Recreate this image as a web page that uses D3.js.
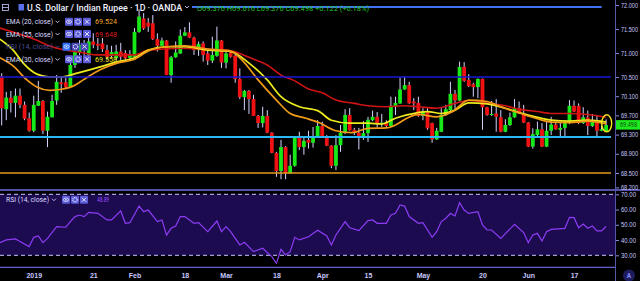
<!DOCTYPE html>
<html>
<head>
<meta charset="utf-8">
<script src="https://cdn.jsdelivr.net/npm/d3@7"></script>
<style>
  html, body { margin: 0; padding: 0; background: #000; }
  svg { display: block; font-family: Roboto, "DejaVu Sans", sans-serif; }
</style>
</head>
<body>
<svg id="chart" width="640" height="281"></svg>
<script>
// daily USD/INR candles, 24 Dec 2018 .. 26 Jun 2019 (weekdays)
const opens = [
  70.52, 69.83, 70.07, 69.96, 70.11, 69.92, 69.64, 69.38, 69.90, 70.00,
  69.38, 69.66, 70.01, 70.39, 70.39, 70.29, 70.75, 71.02, 71.17, 70.96,
  71.24, 71.19, 71.20, 71.06, 70.94, 70.89, 71.03, 71.00, 70.90, 70.92,
  71.44, 71.72, 71.63, 71.62, 71.29, 71.15, 71.26, 70.54, 70.91, 70.99,
  71.36, 71.43, 71.32, 71.06, 71.20, 70.99, 70.84, 70.94, 71.26, 70.80,
  71.01, 70.94, 70.46, 70.08, 70.21, 70.04, 69.69, 69.54, 69.69, 69.34,
  68.92, 68.54, 69.04, 68.49, 68.65, 69.26, 69.04, 69.19, 69.13, 69.26,
  69.48, 69.27, 69.07, 68.65, 69.08, 69.34, 69.71, 69.40, 69.34, 69.24,
  69.33, 69.60, 69.67, 69.52, 69.55, 69.48, 69.88, 69.95, 70.24, 70.33,
  69.99, 69.96, 69.69, 69.79, 69.54, 69.20, 69.36, 69.71, 69.81, 70.15,
  70.01, 70.71, 70.44, 70.35, 70.29, 70.46, 69.87, 69.71, 69.74, 69.66,
  69.36, 69.50, 69.66, 69.85, 69.74, 69.55, 69.05, 69.29, 69.41, 69.05,
  69.38, 69.51, 69.40, 69.44, 69.54, 69.90, 69.90, 69.54, 69.66, 69.48,
  69.59, 69.38, 69.376
];
const highs = [
  70.58, 70.19, 70.21, 70.26, 70.26, 69.99, 69.76, 70.11, 70.42, 70.02,
  69.78, 70.13, 70.54, 70.52, 70.51, 70.85, 71.13, 71.27, 71.27, 71.42,
  71.41, 71.31, 71.31, 71.17, 71.15, 71.17, 71.21, 71.06, 71.06, 71.52,
  71.91, 71.83, 71.73, 71.79, 71.41, 71.32, 71.27, 70.94, 71.24, 71.49,
  71.54, 71.64, 71.34, 71.24, 71.24, 71.10, 71.34, 71.55, 71.27, 71.02,
  71.06, 71.03, 70.68, 70.23, 70.23, 70.13, 69.71, 69.88, 69.81, 69.35,
  68.94, 69.19, 69.06, 68.88, 69.27, 69.36, 69.27, 69.38, 69.46, 69.60,
  69.57, 69.29, 69.08, 69.29, 69.50, 69.83, 69.85, 69.44, 69.44, 69.58,
  69.67, 69.80, 69.77, 69.73, 69.60, 70.09, 70.09, 70.49, 70.51, 70.40,
  70.06, 70.09, 69.85, 69.85, 69.55, 69.44, 69.85, 69.92, 70.40, 70.23,
  70.82, 70.81, 70.56, 70.38, 70.47, 70.47, 69.88, 70.00, 70.04, 69.81,
  69.62, 69.76, 70.04, 69.99, 69.92, 69.56, 69.43, 69.57, 69.54, 69.57,
  69.67, 69.58, 69.54, 69.60, 70.02, 70.01, 69.95, 69.87, 69.80, 69.73,
  69.71, 69.50, 69.616
];
const lows = [
  69.49, 69.60, 69.76, 69.66, 69.85, 69.60, 69.36, 69.35, 69.90, 69.31,
  69.04, 69.66, 69.92, 70.17, 70.27, 70.29, 70.69, 70.96, 70.94, 70.92,
  71.10, 71.06, 71.02, 70.85, 70.90, 70.85, 70.85, 70.81, 70.85, 70.92,
  71.42, 71.48, 71.44, 71.27, 71.03, 71.15, 70.54, 70.38, 70.90, 70.98,
  71.35, 71.31, 70.96, 70.94, 70.82, 70.75, 70.79, 70.92, 70.69, 70.68,
  70.90, 70.38, 70.04, 69.81, 69.73, 69.69, 69.44, 69.45, 69.33, 68.91,
  68.42, 68.37, 68.37, 68.49, 68.63, 68.98, 68.88, 69.01, 69.03, 69.25,
  69.25, 69.06, 68.60, 68.56, 68.94, 69.31, 69.38, 69.29, 68.99, 69.19,
  69.15, 69.58, 69.45, 69.46, 69.44, 69.46, 69.71, 69.94, 70.23, 69.94,
  69.81, 69.67, 69.60, 69.40, 69.13, 69.19, 69.35, 69.69, 69.79, 69.81,
  70.00, 70.40, 70.29, 70.09, 70.06, 69.40, 69.69, 69.69, 69.36, 69.35,
  69.35, 69.48, 69.65, 69.73, 69.54, 69.04, 69.01, 69.27, 69.04, 69.04,
  69.29, 69.40, 69.27, 69.27, 69.52, 69.77, 69.52, 69.52, 69.29, 69.46,
  69.27, 69.37, 69.376
];
const closes = [
  69.85, 70.07, 69.96, 70.11, 69.92, 69.63, 69.38, 69.92, 70.00, 69.38,
  69.67, 70.00, 70.40, 70.35, 70.29, 70.75, 71.03, 71.17, 71.06, 71.24,
  71.17, 71.15, 71.08, 70.92, 71.02, 71.03, 70.92, 70.89, 70.96, 71.44,
  71.76, 71.51, 71.55, 71.29, 71.15, 71.26, 70.54, 70.91, 71.01, 71.36,
  71.43, 71.32, 71.06, 71.19, 70.96, 70.84, 70.96, 71.26, 70.80, 70.99,
  70.92, 70.46, 70.08, 70.21, 70.04, 69.69, 69.54, 69.69, 69.34, 68.92,
  68.54, 69.04, 68.49, 68.65, 69.26, 69.04, 69.17, 69.13, 69.26, 69.48,
  69.27, 69.07, 68.65, 69.08, 69.34, 69.71, 69.39, 69.34, 69.24, 69.33,
  69.61, 69.67, 69.54, 69.55, 69.48, 69.90, 69.96, 70.24, 70.33, 69.95,
  69.95, 69.69, 69.79, 69.43, 69.20, 69.38, 69.71, 69.83, 70.15, 70.01,
  70.71, 70.42, 70.31, 70.29, 70.46, 69.87, 69.71, 69.73, 69.67, 69.36,
  69.50, 69.66, 69.85, 69.74, 69.55, 69.05, 69.31, 69.41, 69.05, 69.38,
  69.51, 69.41, 69.44, 69.54, 69.90, 69.78, 69.54, 69.66, 69.48, 69.59,
  69.38, 69.41, 69.498
];

// moving averages: [bar index, price]
const ema20 = [
  [-0.4, 70.90], [2.5, 70.73], [5.5, 70.44], [7.7, 70.29], [10.5, 70.22], [13.4, 70.25],
  [15.6, 70.31], [17.8, 70.44], [21.5, 70.65], [25.2, 70.79], [28.7, 70.86], [32.4, 71.06],
  [36, 71.13], [40, 71.15], [45, 71.08], [50, 71.04], [52.5, 70.85], [56, 70.44],
  [60, 70.02], [63, 69.74], [66.5, 69.64], [69.5, 69.54], [73, 69.38], [76.5, 69.34],
  [80, 69.43], [84, 69.44], [86, 69.50], [88.5, 69.64], [91, 69.72], [95, 69.67],
  [98.5, 69.78], [102, 70.02], [106, 69.99], [109.5, 69.86], [113, 69.75], [117, 69.63],
  [120, 69.56], [124, 69.55], [128, 69.58], [132, 69.52]
];
const ema30 = [
  [-0.4, 71.29], [2.5, 71.06], [4.7, 70.79], [7.7, 70.56], [10.5, 70.50], [13, 70.50],
  [16.5, 70.58], [21.5, 70.71], [25, 70.81], [29, 70.90], [32, 71.06], [36, 71.13],
  [40, 71.13], [45, 71.06], [50, 71.03], [54, 70.79], [58, 70.44], [61, 70.09],
  [65, 69.88], [69, 69.80], [72, 69.60], [76, 69.54], [80, 69.54], [83, 69.52],
  [86, 69.64], [88.5, 69.71], [93, 69.78], [96, 69.74], [99, 69.81], [102, 69.96],
  [106, 69.94], [110, 69.85], [113, 69.76], [117, 69.66], [120, 69.60], [124, 69.58],
  [128, 69.60], [132, 69.56]
];
const ema55 = [
  [-0.4, 71.52], [7, 71.29], [11, 71.13], [18, 71.00], [21, 70.96], [29, 70.96],
  [32, 71.06], [40, 71.10], [43, 71.08], [49, 71.06], [52, 70.99], [54, 70.91],
  [58, 70.75], [61, 70.54], [64, 70.42], [67, 70.25], [70, 70.17], [73, 70.02],
  [77, 69.95], [80, 69.90], [84, 69.88], [88, 69.90], [91, 69.88], [95, 69.85],
  [99, 69.95], [102, 70.01], [106, 69.96], [110, 69.90], [113, 69.83], [117, 69.78],
  [120, 69.74], [124, 69.74], [128, 69.72], [132, 69.66]
];

// RSI(14) turning points: [bar index, value]
const rsi = [
  [-0.4, 38.3], [1, 40.1], [3, 40.7], [4, 39.0], [6, 35.7], [7, 41.8], [8, 42.7], [9, 38.3],
  [10, 41.1], [12, 48.8], [14, 48.4], [15, 52.1], [16, 55.4], [17, 56.4], [18, 55.4],
  [19, 58.2], [21, 57.5], [23, 53.2], [24, 53.2], [26, 59.1], [27, 51.0], [28, 51.4],
  [30, 62.3], [31, 58.6], [32, 59.7], [34, 52.1], [35, 53.2], [36, 43.3], [37, 47.7],
  [38, 49.2], [39, 55.4], [40, 55.4], [42, 51.0], [43, 51.4], [45, 45.5], [47, 52.5],
  [48, 45.5], [49, 48.8], [50, 45.5], [52, 36.8], [53, 38.5], [55, 32.4], [57, 34.6],
  [59, 29.1], [60, 24.8], [61, 33.9], [62, 30.2], [63, 32.4], [64, 41.8], [65, 40.1],
  [67, 42.2], [69, 46.5], [71, 42.7], [72, 36.8], [73, 43.3], [75, 52.1], [76, 48.1],
  [78, 46.2], [80, 52.7], [81, 53.2], [82, 51.0], [84, 51.0], [85, 56.4], [86, 57.5],
  [87, 63.0], [88, 62.3], [89, 55.4], [91, 51.0], [92, 51.4], [94, 41.8], [95, 45.5],
  [96, 52.1], [97, 54.3], [98, 57.5], [99, 55.8], [100, 64.5], [101, 59.7], [102, 57.5],
  [104, 58.6], [105, 49.9], [106, 46.6], [107, 46.6], [109, 41.1], [112, 50.3], [114, 44.9],
  [115, 38.3], [116, 43.3], [117, 44.4], [118, 39.4], [119, 45.5], [120, 47.0], [123, 47.7],
  [124, 54.9], [125, 54.7], [126, 48.1], [127, 50.5], [128, 47.7], [129, 49.2], [130, 46.0],
  [131, 46.0], [132, 48.9]
];

// horizontal drawings
const levels = [71.96, 70.5, 69.25, 68.5];

// axis labels
const priceTicks = [72.0, 71.5, 71.0, 70.5, 70.1, 69.7, 69.3, 68.9, 68.5, 68.2];
const rsiTicks = [70, 60, 50, 40, 30];
const dateTicks = [
  ['2019-01-02', '2019'], ['2019-01-21', '21'], ['2019-02-01', 'Feb'], ['2019-02-18', '18'],
  ['2019-03-01', 'Mar'], ['2019-03-18', '18'], ['2019-04-01', 'Apr'], ['2019-04-15', '15'],
  ['2019-05-01', 'May'], ['2019-05-20', '20'], ['2019-06-03', 'Jun'], ['2019-06-17', '17']
];
const legendRows = [
  { label: 'EMA (20, close)', value: '69.524', color: '#f0a62a' },
  { label: 'EMA (55, close)', value: '69.648', color: '#d81c1c' },
  { label: 'RSI (14, close)', value: '', color: '' },
  { label: 'EMA (30, close)', value: '69.558', color: '#e8e41e' }
];
const lastPrice = 69.498;
const lastRsi = '48.89';

// ---------------------------------------------------------------
const W = 640, H = 281;
const axisX = 615;
const paneBottom = 190;
const TEXT = '#c8c8ff';

// trading days (weekdays)
const dates = [];
{
  const d = new Date(2018, 11, 24);
  while (dates.length < closes.length) {
    if (d.getDay() !== 0 && d.getDay() !== 6) dates.push(new Date(d));
    d.setDate(d.getDate() + 1);
  }
}
const fmtDay = d3.timeFormat('%Y-%m-%d');

const svg = d3.select('#chart');

const x = d3.scaleLinear().domain([0, closes.length - 1]).range([1.7, 606.1]);
const y = d3.scaleLinear().domain([68.2, 72.0]).range([187.4, 5]);
const yR = d3.scaleLinear().domain([30, 70]).range([255.3, 194.3]);

svg.append('rect').attr('width', W).attr('height', H).attr('fill', '#000');

const defs = svg.append('defs');
defs.append('clipPath').attr('id', 'mainClip')
  .append('rect').attr('x', 0).attr('y', 0).attr('width', axisX).attr('height', paneBottom);
defs.append('clipPath').attr('id', 'rsiClip')
  .append('rect').attr('x', 0).attr('y', paneBottom).attr('width', axisX).attr('height', 267 - paneBottom);

// RSI pane band
svg.append('rect')
  .attr('x', 0).attr('y', yR(70))
  .attr('width', axisX).attr('height', yR(30) - yR(70))
  .attr('fill', '#1d0b50');

svg.selectAll('.rsi-band-line')
  .data([70, 30])
  .enter().append('line')
  .attr('class', 'rsi-band-line')
  .attr('x1', 0).attr('x2', axisX)
  .attr('y1', d => yR(d)).attr('y2', d => yR(d))
  .attr('stroke', '#c8c8ff').attr('stroke-width', 1)
  .attr('stroke-dasharray', '4,3');

// candles
const main = svg.append('g').attr('clip-path', 'url(#mainClip)');

const candles = main.selectAll('.candle')
  .data(closes.map((c, i) => ({ i, o: opens[i], h: highs[i], l: lows[i], c })))
  .enter().append('g').attr('class', 'candle');

candles.append('line')
  .attr('x1', d => x(d.i)).attr('x2', d => x(d.i))
  .attr('y1', d => y(d.h)).attr('y2', d => y(d.l))
  .attr('stroke', '#d4d4ff').attr('stroke-width', 1);

candles.append('rect')
  .attr('x', d => x(d.i) - 1.9)
  .attr('width', 3.8)
  .attr('y', d => y(Math.max(d.o, d.c)))
  .attr('height', d => Math.max(1, Math.abs(y(d.o) - y(d.c))))
  .attr('fill', d => d.c >= d.o ? '#17e817' : '#f01212');

// moving averages
const emaLine = d3.line()
  .x(d => x(d[0]))
  .y(d => y(d[1]))
  .curve(d3.curveMonotoneX);

main.append('path').datum(ema55)
  .attr('d', emaLine).attr('fill', 'none')
  .attr('stroke', '#d01414').attr('stroke-width', 1.6);
main.append('path').datum(ema30)
  .attr('d', emaLine).attr('fill', 'none')
  .attr('stroke', '#ecea1c').attr('stroke-width', 1.7);
main.append('path').datum(ema20)
  .attr('d', emaLine).attr('fill', 'none')
  .attr('stroke', '#f09a1a').attr('stroke-width', 1.7);

// horizontal drawings
const levelStyle = [
  { stroke: '#4272f2', w: 2, x1: 192, x2: 601.7 },
  { stroke: '#1818d8', w: 1.5, x1: 0, x2: 611 },
  { stroke: '#2cb8f6', w: 2, x1: 0, x2: 611 },
  { stroke: '#e4981c', w: 1.5, x1: 0, x2: 611 }
];
svg.selectAll('.level')
  .data(levels)
  .enter().append('line')
  .attr('class', 'level')
  .attr('x1', (d, i) => levelStyle[i].x1).attr('x2', (d, i) => levelStyle[i].x2)
  .attr('y1', d => y(d)).attr('y2', d => y(d))
  .attr('stroke', (d, i) => levelStyle[i].stroke)
  .attr('stroke-width', (d, i) => levelStyle[i].w);

// marker round the last bar
svg.append('ellipse')
  .attr('cx', x(closes.length - 1) + 0.6).attr('cy', 123.3)
  .attr('rx', 5).attr('ry', 8.5)
  .attr('fill', 'none').attr('stroke', '#f2e41e').attr('stroke-width', 1.4);

// RSI line
svg.append('path').datum(rsi)
  .attr('clip-path', 'url(#rsiClip)')
  .attr('d', d3.line().x(d => x(d[0])).y(d => yR(d[1])))
  .attr('fill', 'none')
  .attr('stroke', '#8c3cf4').attr('stroke-width', 1.2);

// pane separators and price scale line
svg.append('line')
  .attr('x1', 0).attr('x2', W).attr('y1', paneBottom).attr('y2', paneBottom)
  .attr('stroke', '#6e6ee0').attr('stroke-width', 1.5);
svg.append('line')
  .attr('x1', 0).attr('x2', axisX).attr('y1', 267.3).attr('y2', 267.3)
  .attr('stroke', '#6262d4').attr('stroke-width', 1.2);
svg.append('line')
  .attr('x1', axisX + 0.5).attr('x2', axisX + 0.5).attr('y1', 0).attr('y2', H)
  .attr('stroke', '#5656a8').attr('stroke-width', 1);

// price axis
const priceAxis = d3.axisRight(y)
  .tickValues(priceTicks)
  .tickFormat(d3.format('.3f'))
  .tickSize(3).tickPadding(2);
const pa = svg.append('g')
  .attr('transform', `translate(${axisX + 1},0)`)
  .call(priceAxis);
pa.select('.domain').remove();
pa.selectAll('line').attr('stroke', '#8a8ae0');
pa.selectAll('text')
  .attr('fill', TEXT).attr('font-size', '6.5px')
  .attr('textLength', 17).attr('lengthAdjust', 'spacingAndGlyphs');

// RSI axis
const rsiAxis = d3.axisRight(yR)
  .tickValues(rsiTicks)
  .tickFormat(d3.format('.2f'))
  .tickSize(3).tickPadding(2);
const ra = svg.append('g')
  .attr('transform', `translate(${axisX + 1},0)`)
  .call(rsiAxis);
ra.select('.domain').remove();
ra.selectAll('line').attr('stroke', '#8a8ae0');
ra.selectAll('text')
  .attr('fill', TEXT).attr('font-size', '6.5px')
  .attr('textLength', 15).attr('lengthAdjust', 'spacingAndGlyphs');

// date axis
const tickIdx = dateTicks.map(t => dates.findIndex(d => fmtDay(d) === t[0]));
const tickLabel = new Map(tickIdx.map((k, n) => [k, dateTicks[n][1]]));
const dateAxis = d3.axisBottom(x)
  .tickValues(tickIdx)
  .tickFormat(k => tickLabel.get(k))
  .tickSize(0).tickPadding(5);
const da = svg.append('g')
  .attr('transform', 'translate(0,268)')
  .call(dateAxis);
da.select('.domain').remove();
da.selectAll('text')
  .attr('fill', TEXT).attr('font-size', '7px').attr('font-weight', 'bold');

// last price tag
svg.append('rect')
  .attr('x', axisX + 1).attr('y', y(lastPrice) - 5)
  .attr('width', W - axisX - 1).attr('height', 9.5)
  .attr('fill', '#1ee81e');
svg.append('text')
  .attr('x', 620).attr('y', y(lastPrice) + 2.4)
  .attr('fill', '#0d4d0d').attr('font-size', '6.5px')
  .attr('textLength', 17).attr('lengthAdjust', 'spacingAndGlyphs')
  .text(lastPrice.toFixed(3));

// auto-scale button
svg.append('circle')
  .attr('cx', 629).attr('cy', 275.5).attr('r', 6)
  .attr('fill', '#1c1c5e');
svg.append('text')
  .attr('x', 629).attr('y', 278).attr('text-anchor', 'middle')
  .attr('fill', '#8a8aff').attr('font-size', '6.5px').attr('font-weight', 'bold')
  .text('A');

// ---- legends ----
function chevron(g, cx, cy, color) {
  g.append('path')
    .attr('d', `M${cx - 2},${cy - 1} L${cx},${cy + 1} L${cx + 2},${cy - 1}`)
    .attr('fill', 'none').attr('stroke', color).attr('stroke-width', 0.9);
}

function icons(g, x0, cy, fills) {
  fills.forEach((f, k) => {
    const bx = x0 + k * 9;
    g.append('rect')
      .attr('x', bx).attr('y', cy - 4).attr('width', 8).attr('height', 8)
      .attr('rx', 1).attr('fill', f);
    if (k === 0) {
      g.append('ellipse').attr('cx', bx + 4).attr('cy', cy).attr('rx', 2.6).attr('ry', 1.7)
        .attr('fill', 'none').attr('stroke', '#e8e8ff').attr('stroke-width', 0.8);
      g.append('circle').attr('cx', bx + 4).attr('cy', cy).attr('r', 0.8).attr('fill', '#e8e8ff');
    } else if (k === 1) {
      g.append('circle').attr('cx', bx + 4).attr('cy', cy).attr('r', 2.2)
        .attr('fill', 'none').attr('stroke', '#e8e8ff').attr('stroke-width', 1.1)
        .attr('stroke-dasharray', '1.1,0.6');
    } else {
      g.append('path')
        .attr('d', `M${bx + 2},${cy - 2} L${bx + 6},${cy + 2} M${bx + 6},${cy - 2} L${bx + 2},${cy + 2}`)
        .attr('stroke', '#e8e8ff').attr('stroke-width', 1);
    }
  });
}

const legend = svg.append('g');

// title row
legend.append('rect').attr('x', 2.5).attr('y', 4.5).attr('width', 6).attr('height', 6)
  .attr('fill', 'none').attr('stroke', TEXT).attr('stroke-width', 0.8);
legend.append('line').attr('x1', 2.5).attr('x2', 8.5).attr('y1', 7.5).attr('y2', 7.5)
  .attr('stroke', TEXT).attr('stroke-width', 0.8);
legend.append('rect').attr('x', 18.5).attr('y', 4).attr('width', 5.5).attr('height', 6.5)
  .attr('fill', '#5a6ee8');
legend.append('text')
  .attr('x', 27).attr('y', 11)
  .attr('fill', '#f0f0ff').attr('font-size', '9px').attr('font-weight', 500)
  .attr('textLength', 155).attr('lengthAdjust', 'spacingAndGlyphs')
  .text('U.S. Dollar / Indian Rupee · 1D · OANDA');
chevron(legend, 187, 7, TEXT);
legend.append('text')
  .attr('x', 197).attr('y', 10.5)
  .attr('fill', '#22c822').attr('font-size', '7px')
  .attr('textLength', 172).attr('lengthAdjust', 'spacingAndGlyphs')
  .text('O69.376 H69.616 L69.376 C69.498 +0.122 (+0.18%)');

const rowY = [21.7, 34, 46.7, 59.3];
legendRows.forEach((r, k) => {
  const cy = rowY[k];
  const dim = r.value === '';
  legend.append('text')
    .attr('x', 6).attr('y', cy + 2.6)
    .attr('fill', dim ? '#4c4c94' : '#dcdcff').attr('font-size', '7.5px')
    .attr('textLength', 47).attr('lengthAdjust', 'spacingAndGlyphs')
    .text(r.label);
  chevron(legend, 57.5, cy, dim ? '#4c4c94' : TEXT);
  icons(legend, dim ? 62.5 : 65, cy, dim ? ['#2c6cff', '#4646b4', '#4646b4'] : ['#5a5ad8', '#5a5ad8', '#5a5ad8']);
  if (!dim) {
    legend.append('text')
      .attr('x', 95).attr('y', cy + 2.6)
      .attr('fill', r.color).attr('font-size', '7.5px')
      .attr('textLength', 22).attr('lengthAdjust', 'spacingAndGlyphs')
      .text(r.value);
  }
});

// RSI legend
const rsiY = 199.7;
legend.append('text')
  .attr('x', 6).attr('y', rsiY + 2.6)
  .attr('fill', '#dcdcff').attr('font-size', '7.5px')
  .attr('textLength', 43).attr('lengthAdjust', 'spacingAndGlyphs')
  .text('RSI (14, close)');
chevron(legend, 54, rsiY, TEXT);
icons(legend, 62, rsiY, ['#5a5ad8', '#5a5ad8', '#5a5ad8']);
legend.append('text')
  .attr('x', 97).attr('y', rsiY + 2.6)
  .attr('fill', '#9a50ff').attr('font-size', '7.5px')
  .attr('textLength', 12).attr('lengthAdjust', 'spacingAndGlyphs')
  .text(lastRsi);
</script>
</body>
</html>
